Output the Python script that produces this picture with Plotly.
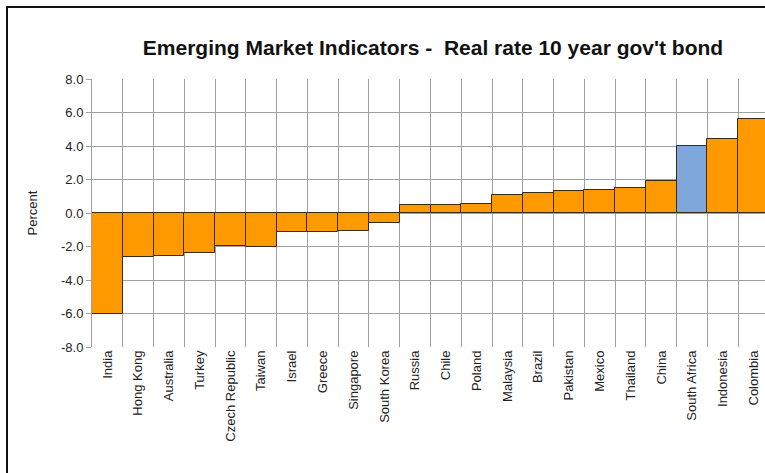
import plotly.graph_objects as go

countries = ["India", "Hong Kong", "Australia", "Turkey", "Czech Republic", "Taiwan",
             "Israel", "Greece", "Singapore", "South Korea", "Russia", "Chile", "Poland",
             "Malaysia", "Brazil", "Pakistan", "Mexico", "Thailand", "China",
             "South Africa", "Indonesia", "Colombia"]
values = [-6.0, -2.63, -2.55, -2.37, -1.98, -2.0, -1.16, -1.12, -1.1, -0.62,
          0.48, 0.48, 0.55, 1.05, 1.2, 1.3, 1.38, 1.52, 1.9, 4.0, 4.44, 5.64]
highlight = "South Africa"
y_ticks = [-8, -6, -4, -2, 0, 2, 4, 6, 8]
y_ticklabels = [f"{v:.1f}" for v in y_ticks]

colors = ["#7FA7DB" if c == highlight else "#FF9900" for c in countries]

fig = go.Figure(go.Bar(
    x=countries, y=values,
    marker=dict(color=colors, line=dict(color="#3a2a10", width=1)),
    width=1.0,
))

fig.update_layout(
    width=765, height=473,
    margin=dict(l=92, r=0, t=79, b=126),
    paper_bgcolor="white", plot_bgcolor="white",
    showlegend=False,
    bargap=0,
    font=dict(family="Liberation Sans, Arial, sans-serif", color="#222222", size=12),
    title=dict(text="<b>Emerging Market Indicators -  Real rate 10 year gov't bond</b>",
               x=0.566, xanchor="center", y=0.90, yanchor="middle",
               font=dict(size=21, color="#111111")),
)

fig.update_xaxes(
    type="category", range=[-0.5, 21.37],
    tickson="boundaries", showgrid=True, gridcolor="#A0A0A0", gridwidth=1,
    tickangle=-90, ticks="", showline=False, zeroline=False,
    tickfont=dict(size=13, color="#222222"),
)
fig.update_yaxes(
    range=[-8, 8], tickvals=y_ticks, ticktext=y_ticklabels,
    showgrid=True, gridcolor="#A0A0A0", gridwidth=1,
    zeroline=False, showline=True, linecolor="#A0A0A0",
    ticks="outside", ticklen=5, tickcolor="#A0A0A0",
    tickfont=dict(size=13, color="#222222"),
    title=dict(text="Percent", font=dict(size=13, color="#222222"), standoff=20),
)

# darker gridline at 2.0 as in the original
fig.add_shape(type="line", xref="paper", yref="y", x0=0, x1=1, y0=2, y1=2,
              line=dict(color="#333333", width=1), layer="below")
# outer chart border
fig.add_shape(type="rect", xref="paper", yref="paper",
              x0=(7 - 92) / 673, x1=1.05, y0=-0.6, y1=(347 - 7) / 268,
              line=dict(color="#111111", width=2), fillcolor="rgba(0,0,0,0)")

fig.write_html("out.html")
